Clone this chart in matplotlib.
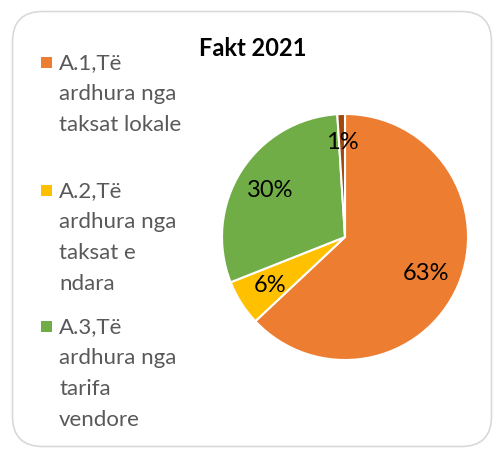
import matplotlib
matplotlib.use("Agg")
import matplotlib.pyplot as plt
from matplotlib.patches import FancyBboxPatch, Rectangle

title = "Fakt 2021"
categories = ["A.1,Të\nardhura nga\ntaksat lokale",
              "A.2,Të\nardhura nga\ntaksat e\nndara",
              "A.3,Të\nardhura nga\ntarifa\nvendore",
              "A.4"]
values = [63, 6, 30, 1]
colors = ["#ED7D31", "#FFC000", "#70AD47", "#9E480E"]

plt.rcParams['font.family'] = ['Lato', 'DejaVu Sans']

W, H = 504, 460
fig = plt.figure(figsize=(W/100, H/100), dpi=100)

# rounded frame
frame = FancyBboxPatch((12.5/W, 12.5/H), (W-25)/W, (H-25)/H,
                       boxstyle="round,pad=0,rounding_size=0.06",
                       transform=fig.transFigure, facecolor="white",
                       edgecolor="#D9D9D9", linewidth=1.2,
                       mutation_aspect=W/H, zorder=-5)
fig.patches.append(frame)

cx, cy, r = 345, 238, 123
ax = fig.add_axes([(cx-r)/W, (H-cy-r)/H, 2*r/W, 2*r/H])
ax.set_zorder(2)
ax.patch.set_alpha(0)
wedges, texts, autotexts = ax.pie(
    values, colors=colors, startangle=90, counterclock=False,
    autopct=lambda p: f"{p:.0f}%", pctdistance=0.72,
    wedgeprops=dict(edgecolor="white", linewidth=1.5),
    textprops=dict(fontsize=17, color="#000000"))
# the small slice label sits a bit further out
x, y = autotexts[3].get_position()
autotexts[3].set_position((x*0.78/0.72, y*0.78/0.72))
ax.set_xlim(-1, 1)
ax.set_ylim(-1, 1)
ax.set_aspect("equal")
ax.axis("off")

fig.text(253/W, 1-48/H, title, ha="center", va="center",
         fontsize=17, fontweight="bold", color="#000000")

# legend (first three entries visible)
starts = [63, 191, 327]
line_h = 31
for lab, col, y0 in zip(categories[:3], colors[:3], starts):
    fig.patches.append(Rectangle((41/W, 1-(y0+5.5)/H), 11/W, 11/H,
                                 transform=fig.transFigure,
                                 facecolor=col, edgecolor="none"))
    for i, line in enumerate(lab.split("\n")):
        fig.text(59/W, 1-(y0+i*line_h)/H, line, ha="left", va="center",
                 fontsize=16, color="#595959")

fig.savefig("out.png", dpi=100)
